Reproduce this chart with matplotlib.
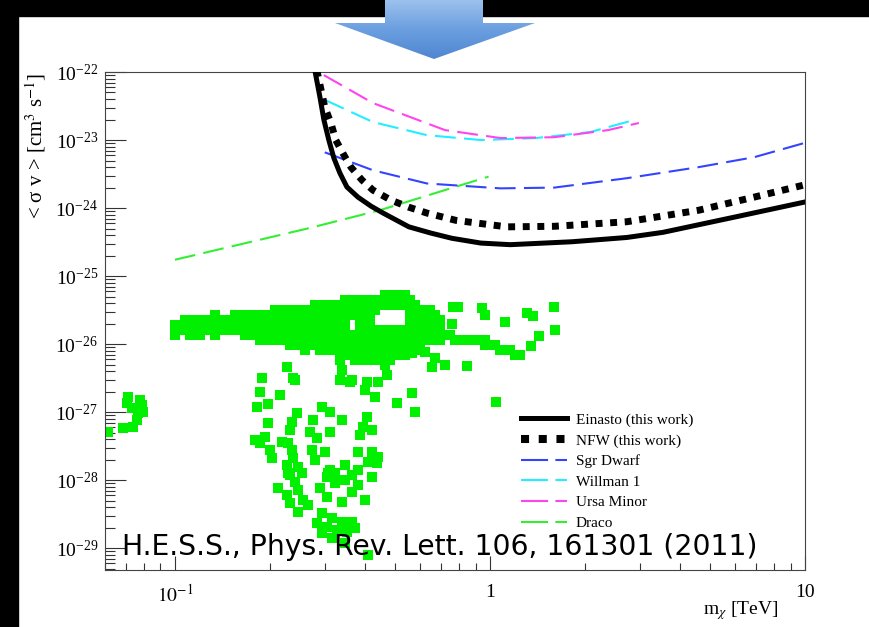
import numpy as np
import matplotlib
matplotlib.use("Agg")
from matplotlib import pyplot as plt
from matplotlib.lines import Line2D
from matplotlib.patches import Polygon, Rectangle
from matplotlib.colors import LinearSegmentedColormap
from matplotlib.ticker import FixedLocator, FixedFormatter, LogLocator, NullFormatter

plt.rcParams['font.family'] = ['Liberation Serif', 'DejaVu Serif']
plt.rcParams['mathtext.fontset'] = 'stix'

einasto_m = [0.278, 0.2886, 0.2972, 0.308, 0.3196, 0.334, 0.3516, 0.381, 0.419, 0.457, 0.553, 0.6497,
             0.757, 0.936, 1.16, 1.82, 2.72, 3.54, 6.0, 10.0]
einasto_sv = [1.07e-22, 4.29e-23, 1.97e-23, 1.0e-23, 5.44e-24, 3.27e-24, 2.04e-24, 1.45e-24, 1.07e-24,
              8.5e-25, 5.3e-25, 4.29e-25, 3.6e-25, 3.06e-25, 2.9e-25, 3.2e-25, 3.7e-25, 4.4e-25,
              7.4e-25, 1.23e-24]
nfw_m = [0.282, 0.299, 0.3128, 0.324, 0.344, 0.362, 0.3925, 0.425, 0.485, 0.553, 0.631, 0.780, 1.13,
         1.6, 2.72, 4.6, 6.9, 10.0]
nfw_sv = [1.07e-22, 3.05e-23, 1.78e-23, 1.0e-23, 6.0e-24, 4.0e-24, 2.58e-24, 1.84e-24, 1.31e-24,
          1.03e-24, 8.45e-25, 6.6e-25, 5.3e-25, 5.4e-25, 6.3e-25, 9.3e-25, 1.45e-24, 2.2e-24]
sgr_m = [0.299, 0.425, 0.631, 1.08, 1.6, 2.72, 4.6, 6.9, 10.0]
sgr_sv = [6.6e-24, 3.6e-24, 2.3e-24, 1.95e-24, 2.0e-24, 2.75e-24, 4.0e-24, 5.6e-24, 9.1e-24]
willman_m = [0.299, 0.425, 0.631, 0.936, 1.4, 2.08, 2.87]
willman_sv = [3.9e-23, 1.84e-23, 1.18e-23, 1.0e-23, 1.07e-23, 1.31e-23, 1.97e-23]
ursa_m = [0.297, 0.425, 0.72, 1.08, 1.6, 2.37, 2.97]
ursa_sv = [9.0e-23, 3.5e-23, 1.4e-23, 1.07e-23, 1.1e-23, 1.4e-23, 1.78e-23]
draco_m = [0.1, 0.268, 0.447, 0.99]
draco_sv = [1.74e-25, 5.1e-25, 9.3e-25, 2.9e-24]

# model points (green squares): dense band, one entry per mass column
band_cols = [
    (0.100, [1.90e-26, 1.36e-26]), (0.1037, [1.61e-26]), (0.1076, [2.25e-26, 1.61e-26]),
    (0.1116, [1.90e-26, 1.36e-26]), (0.1157, [2.25e-26, 1.61e-26]), (0.1201, [1.90e-26, 1.36e-26]),
    (0.1245, [2.25e-26, 1.61e-26]), (0.1292, [2.25e-26, 1.61e-26]), (0.1340, [2.67e-26, 1.90e-26, 1.36e-26]),
    (0.1390, [2.25e-26, 1.61e-26]), (0.1441, [2.25e-26, 1.61e-26]), (0.1495, [2.25e-26, 1.61e-26]),
    (0.1551, [2.67e-26, 1.90e-26]), (0.1608, [2.25e-26, 1.61e-26]), (0.1668, [2.67e-26, 1.90e-26, 1.36e-26]),
    (0.1730, [2.25e-26, 1.61e-26]), (0.1795, [2.67e-26, 1.90e-26, 1.36e-26]),
    (0.1861, [2.25e-26, 1.61e-26, 1.15e-26]), (0.1931, [2.67e-26, 1.90e-26, 1.36e-26]),
    (0.2002, [2.25e-26, 1.61e-26, 1.15e-26]), (0.2077, [3.16e-26, 2.25e-26, 1.61e-26, 1.15e-26]),
    (0.2154, [2.67e-26, 1.90e-26, 1.36e-26]), (0.2235, [3.16e-26, 2.25e-26, 1.61e-26, 1.15e-26]),
    (0.2318, [2.67e-26, 1.90e-26, 1.36e-26, 9.67e-27]), (0.2404, [3.16e-26, 2.25e-26, 1.61e-26, 1.15e-26]),
    (0.2493, [2.67e-26, 1.90e-26, 1.36e-26, 9.67e-27]),
    (0.2586, [3.16e-26, 2.25e-26, 1.61e-26, 1.15e-26, 8.17e-27]),
    (0.2683, [2.67e-26, 1.90e-26, 1.36e-26, 9.67e-27]),
    (0.2783, [3.75e-26, 2.67e-26, 1.90e-26, 1.36e-26, 9.67e-27]),
    (0.2886, [3.16e-26, 2.25e-26, 1.61e-26, 1.15e-26, 8.17e-27]),
    (0.2993, [3.75e-26, 2.67e-26, 1.90e-26, 1.36e-26, 9.67e-27]),
    (0.3105, [3.16e-26, 2.25e-26, 1.61e-26, 1.15e-26, 8.17e-27]),
    (0.3220, [3.75e-26, 2.67e-26, 1.90e-26, 1.36e-26, 9.67e-27]),
    (0.3340, [3.16e-26, 2.25e-26, 1.61e-26, 1.15e-26, 8.17e-27, 5.82e-27]),
    (0.3465, [4.44e-26, 3.16e-26, 2.25e-26, 1.61e-26, 1.15e-26, 8.17e-27]),
    (0.3594, [3.75e-26, 2.67e-26, 1.36e-26, 9.67e-27, 6.89e-27]),
    (0.3728, [4.44e-26, 3.16e-26, 1.15e-26, 8.17e-27, 5.82e-27]),
    (0.3866, [3.75e-26, 2.67e-26, 1.90e-26, 1.36e-26, 9.67e-27, 6.89e-27]),
    (0.4010, [4.44e-26, 3.16e-26, 2.25e-26, 1.61e-26, 1.15e-26, 8.17e-27, 5.82e-27]),
    (0.4160, [3.75e-26, 2.67e-26, 1.90e-26, 1.36e-26, 9.67e-27, 6.89e-27]),
    (0.4314, [4.44e-26, 3.16e-26, 1.61e-26, 1.15e-26, 8.17e-27, 5.82e-27]),
    (0.4475, [3.75e-26, 1.61e-26, 1.15e-26, 8.17e-27]),
    (0.4642, [5.25e-26, 3.75e-26, 1.36e-26, 9.67e-27, 6.89e-27]),
    (0.4814, [4.44e-26, 1.61e-26, 1.15e-26, 8.17e-27, 5.82e-27]),
    (0.4994, [5.25e-26, 3.75e-26, 1.36e-26, 9.67e-27, 6.89e-27]),
    (0.5180, [4.44e-26, 1.61e-26, 1.15e-26, 8.17e-27]),
    (0.5373, [5.25e-26, 3.75e-26, 1.36e-26, 9.67e-27, 6.89e-27]),
    (0.5572, [4.44e-26, 3.16e-26, 2.25e-26, 1.61e-26, 1.15e-26, 8.17e-27]),
    (0.5780, [3.75e-26, 2.67e-26, 1.90e-26, 1.36e-26, 9.67e-27]),
    (0.5995, [3.16e-26, 2.25e-26, 1.61e-26, 1.15e-26, 8.17e-27]),
    (0.6218, [2.67e-26, 1.90e-26, 1.36e-26]), (0.6450, [3.16e-26, 2.25e-26, 1.61e-26, 1.15e-26]),
    (0.6690, [2.67e-26, 1.90e-26, 1.36e-26]), (0.6939, [2.25e-26, 1.61e-26, 1.15e-26]),
    (0.7197, [1.36e-26]), (0.7465, [1.36e-26]), (0.7743, [1.15e-26]), (0.8031, [1.15e-26]),
    (0.8330, [1.15e-26]), (0.8640, [1.15e-26]), (0.8962, [1.15e-26]), (0.9296, [1.15e-26]),
    (0.9642, [1.15e-26, 9.67e-27]), (1.0, [9.67e-27]), (1.037, [9.67e-27]), (1.076, [8.17e-27]),
    (1.116, [8.17e-27]), (1.157, [8.17e-27]), (1.200, [6.89e-27]), (1.245, [6.89e-27]),
]

iso_m = [0.763, 0.791, 0.943, 0.964, 1.116, 1.311, 1.369, 1.597, 1.608, 1.431, 1.349, 0.758, 0.845,
         0.720, 0.655, 0.669, 0.622, 0.565, 1.045, 0.227, 0.189, 0.237, 0.339, 0.365, 0.464, 0.471]
iso_sv = [3.50e-26, 3.50e-26, 3.38e-26, 2.67e-26, 2.11e-26, 2.86e-26, 2.58e-26, 3.50e-26, 1.61e-26,
          1.31e-26, 9.35e-27, 1.97e-26, 4.75e-27, 4.91e-27, 4.59e-27, 6.22e-27, 7.63e-27, 7.38e-27,
          1.40e-27, 4.59e-27, 3.16e-27, 3.16e-27, 4.15e-27, 2.96e-27, 4.91e-27, 3.50e-27]

left_m = [0.0709, 0.0704, 0.0730, 0.0786, 0.0763, 0.0757, 0.0736, 0.0684, 0.0613, 0.0774, 0.0790]
left_sv = [1.66e-27, 1.36e-27, 1.15e-27, 1.27e-27, 9.7e-28, 7.6e-28, 6.0e-28, 5.8e-28, 5.1e-28, 1.5e-27, 1.0e-27]

low_m = [0.1861, 0.2154, 0.182, 0.197, 0.2404, 0.334, 0.3594, 0.407, 0.441, 0.401, 0.4314, 0.565,
         0.507, 0.578, 0.293, 0.3105, 0.244, 0.235, 0.2318, 0.274, 0.2683, 0.282, 0.339, 0.407,
         0.395, 0.422, 0.3866, 0.197, 0.3105, 0.1931, 0.1861, 0.2186, 0.2285, 0.2002, 0.2033,
         0.235, 0.237, 0.272, 0.2993, 0.2783, 0.381, 0.422, 0.441, 0.410, 0.438, 0.227, 0.246,
         0.2318, 0.253, 0.3105, 0.322, 0.3465, 0.304, 0.381, 0.365, 0.422, 0.2285, 0.2404, 0.212,
         0.227, 0.246, 0.255, 0.2318, 0.246, 0.264, 0.306, 0.322, 0.2886, 0.304, 0.3465, 0.365,
         0.381, 0.401, 0.339, 0.293, 0.315, 0.282, 0.304, 0.339, 0.365, 0.327, 0.293, 0.352,
         0.315, 0.3728, 0.410, 0.3465, 0.1795]
low_sv = [1.97e-27, 1.78e-27, 1.19e-27, 1.31e-27, 2.96e-27, 2.96e-27, 2.76e-27, 2.76e-27, 2.76e-27,
          2.11e-27, 1.66e-27, 1.90e-27, 1.36e-27, 1.0e-27, 1.19e-27, 1.0e-27, 9.7e-28, 7.13e-28,
          5.44e-28, 7.63e-28, 5.1e-28, 4.15e-28, 7.63e-28, 8.45e-28, 6.0e-28, 5.44e-28, 4.59e-28,
          6.89e-28, 5.1e-28, 4.29e-28, 3.50e-28, 3.62e-28, 3.50e-28, 2.76e-28, 2.11e-28, 2.76e-28,
          2.11e-28, 2.76e-28, 2.58e-28, 1.97e-28, 2.58e-28, 2.58e-28, 2.18e-28, 1.84e-28, 1.78e-28,
          1.66e-28, 1.55e-28, 1.18e-28, 1.27e-28, 1.40e-28, 1.27e-28, 1.66e-28, 1.11e-28, 1.40e-28,
          1.18e-28, 1.11e-28, 1.27e-28, 9.35e-29, 7.63e-29, 6.02e-29, 7.13e-29, 5.08e-29, 4.59e-29,
          3.38e-29, 4.29e-29, 1.27e-28, 9.03e-29, 7.63e-29, 5.62e-29, 1.0e-28, 6.67e-29, 8.45e-29,
          5.08e-29, 4.75e-29, 3.27e-29, 2.76e-29, 2.33e-29, 2.04e-29, 2.41e-29, 2.41e-29, 1.84e-29,
          1.66e-29, 1.72e-29, 1.40e-29, 1.97e-29, 7.89e-30, 1.19e-29, 3.88e-28]

labels = ["Einasto (this work)", "NFW (this work)", "Sgr Dwarf", "Willman 1", "Ursa Minor", "Draco"]
dwarf_colors = ['#3344ff', '#22eeff', '#ff44ee', '#33ee33']

W, H = 869, 627
fig = plt.figure(figsize=(W / 100, H / 100), dpi=100, facecolor='white')
# plain white slide background under everything
fig.patches.append(Rectangle((0, 0), 1, 1, transform=fig.transFigure, color='white', zorder=-10))

ax = fig.add_axes([105 / W, 1 - 570 / H, 700 / W, 498 / H])
ax.set_xscale('log')
ax.set_yscale('log')

band_m = [m for m, svs in band_cols for s in svs]
band_sv = [s for m, svs in band_cols for s in svs]
all_m = band_m + iso_m + left_m + low_m
all_sv = band_sv + iso_sv + left_sv + low_sv
ax.scatter(all_m, all_sv, marker='s', s=53, c='#00f000', edgecolors='none', zorder=2)

dash = (0, (10, 4))
ax.plot(draco_m, draco_sv, color=dwarf_colors[3], lw=1.5, linestyle=dash, zorder=3)
ax.plot(sgr_m, sgr_sv, color=dwarf_colors[0], lw=1.5, linestyle=dash, zorder=3)
ax.plot(willman_m, willman_sv, color=dwarf_colors[1], lw=1.5, linestyle=dash, zorder=3)
ax.plot(ursa_m, ursa_sv, color=dwarf_colors[2], lw=1.5, linestyle=dash, zorder=3)
ax.plot(einasto_m, einasto_sv, color='k', lw=3.6, solid_joinstyle='round', zorder=4)
ax.plot(nfw_m, nfw_sv, color='k', lw=5, linestyle=(0, (1, 1.1)), dash_capstyle='butt', zorder=4)

ax.set_xlim(0.06, 10)
ax.set_ylim(4.8e-30, 1e-22)

ax.xaxis.set_major_locator(FixedLocator([0.1, 1, 10]))
ax.xaxis.set_major_formatter(FixedFormatter([r'$10^{-1}$', '1', '10']))
ax.xaxis.set_minor_locator(LogLocator(base=10, subs=np.arange(2, 10), numticks=20))
ax.xaxis.set_minor_formatter(NullFormatter())
ax.yaxis.set_major_locator(LogLocator(base=10, numticks=20))
ax.yaxis.set_minor_locator(LogLocator(base=10, subs=np.arange(2, 10), numticks=20))
ax.yaxis.set_minor_formatter(NullFormatter())

ax.tick_params(which='both', direction='in', top=False, right=False, color='#333333', width=0.8)
ax.tick_params(axis='y', which='major', length=15, pad=5, labelsize=14)
ax.tick_params(axis='y', which='minor', length=7)
ax.tick_params(axis='x', which='major', length=10, pad=10, labelsize=14)
ax.tick_params(axis='x', which='minor', length=5)
for sp in ax.spines.values():
    sp.set_linewidth(0.8)
    sp.set_color('#444444')

# legend
handles = [Line2D([], [], color='k', lw=3.6),
           Line2D([], [], color='k', lw=5.8, linestyle=(0, (1, 1.2)), dash_capstyle='butt')]
for c in dwarf_colors:
    handles.append(Line2D([], [], color=c, lw=1.5, linestyle=(0, (13, 3.5))))
ax.legend(handles, labels, loc='upper left', bbox_to_anchor=(521 / W, 1 - 413 / H),
          bbox_transform=fig.transFigure, frameon=False, fontsize=11, handlelength=3.0,
          handletextpad=0.6, labelspacing=0.45, borderpad=0, borderaxespad=0)

fig.text(36 / W, 1 - 73 / H, "< σ v > [cm$^{3}$ s$^{-1}$]", rotation=90, ha='center', va='top', fontsize=15)
fig.text(779 / W, 1 - 611 / H, r"m$_{\chi}$ [TeV]", ha='right', va='center', fontsize=14)

ref = fig.text(122 / W, 1 - 555 / H, "H.E.S.S., Phys. Rev. Lett. 106, 161301 (2011)",
               family='DejaVu Sans', fontsize=20, ha='left', va='baseline', zorder=20)
fig.canvas.draw()
w = ref.get_window_extent().width
ref.set_fontsize(20 * 636 / w)

# slide frame: black strips along top and left edge
fig.patches.append(Rectangle((0, 0), 18 / W, 1, transform=fig.transFigure, color='k', zorder=30))
fig.patches.append(Rectangle((0, 1 - 16 / H), 1, 16 / H, transform=fig.transFigure, color='k', zorder=30))

# blue arrow with a vertical gradient, in its own small axes (local pixel units)
aa = fig.add_axes([335 / W, 1 - 60 / H, 200 / W, 62 / H], zorder=40)
aa.set_xlim(0, 200)
aa.set_ylim(62, 0)
aa.set_xticks([])
aa.set_yticks([])
aa.axis('off')
arrow = Polygon([(50, 0), (148, 0), (148, 25), (200, 25), (99, 61), (0, 25), (50, 25)],
                closed=True, facecolor='none', edgecolor='none')
aa.add_patch(arrow)
cmap = LinearSegmentedColormap.from_list('arr', ['#9fc3ee', '#6b9fe0', '#4f86d0'])
im = aa.imshow(np.linspace(0, 1, 64).reshape(-1, 1), extent=[0, 200, 62, 0], cmap=cmap,
               aspect='auto', origin='upper')
im.set_clip_path(arrow)
aa.set_xlim(0, 200)
aa.set_ylim(62, 0)

fig.savefig('out.png', dpi=100, facecolor='white')
